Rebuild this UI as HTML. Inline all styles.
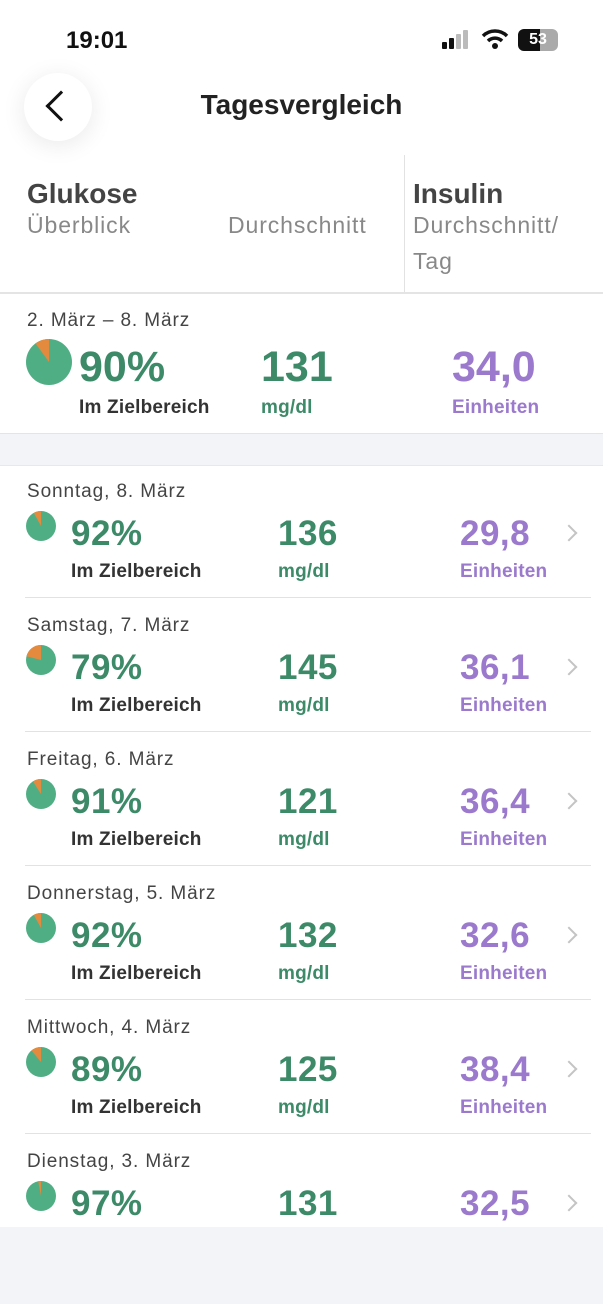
<!DOCTYPE html>
<html><head><meta charset="utf-8"><style>
*{margin:0;padding:0;box-sizing:border-box}
body{width:603px;height:1304px;background:#f3f4f7;font-family:"Liberation Sans",sans-serif;position:relative;overflow:hidden}
.a{position:absolute;white-space:nowrap}
.g{color:#3d8a68;font-weight:bold}
.p{color:#9b79cc;font-weight:bold}
.d{color:#444;font-size:19px;letter-spacing:0.9px}
.lab{font-size:19px;font-weight:bold;letter-spacing:0.2px}
.v{font-size:35px;line-height:34px;letter-spacing:0.5px}
.chev{position:absolute;width:12px;height:12px;border-right:2px solid #c4c4c4;border-top:2px solid #c4c4c4;transform:rotate(45deg)}
.h{font-size:23px;color:#888;letter-spacing:0.9px}
</style></head><body>
<div class="a" style="left:0;top:0;width:603px;height:434px;background:#fff"></div>
<div class="a" style="left:0;top:465px;width:603px;height:762px;background:#fff"></div>
<div class="a" style="left:66px;top:27px;font-size:24px;font-weight:bold;color:#111">19:01</div>
<div class="a" style="left:442px;top:42px;width:5px;height:7px;background:#111;border-radius:1px"></div>
<div class="a" style="left:449px;top:38px;width:5px;height:11px;background:#111;border-radius:1px"></div>
<div class="a" style="left:456px;top:34px;width:5px;height:15px;background:#bbb;border-radius:1px"></div>
<div class="a" style="left:463px;top:30px;width:5px;height:19px;background:#bbb;border-radius:1px"></div>
<svg class="a" style="left:481px;top:28px" width="28" height="22" viewBox="0 0 28 22"><path d="M2 8 A17 17 0 0 1 26 8" stroke="#111" stroke-width="3.5" fill="none"/><path d="M7 13 A10 10 0 0 1 21 13" stroke="#111" stroke-width="3.5" fill="none"/><circle cx="14" cy="18" r="3" fill="#111"/></svg>
<div class="a" style="left:518px;top:29px;width:40px;height:22px;border-radius:6px;background:linear-gradient(90deg,#111 55%,#aaa 55%);color:#fff;font-size:16px;font-weight:bold;text-align:center;line-height:22px">53</div>
<div class="a" style="left:24px;top:73px;width:68px;height:68px;border-radius:50%;background:#fff;box-shadow:0 4px 24px rgba(0,0,0,0.09)"></div>
<div class="a" style="left:50px;top:95px;width:22px;height:22px;border-left:3px solid #111;border-bottom:3px solid #111;transform:rotate(45deg)"></div>
<div class="a" style="left:0;width:603px;top:89px;text-align:center;font-size:28px;font-weight:bold;color:#222;padding-left:0">Tagesvergleich</div>
<div class="a" style="left:27px;top:178px;font-size:28px;font-weight:bold;color:#444">Glukose</div>
<div class="a h" style="left:27px;top:212px">Überblick</div>
<div class="a h" style="left:228px;top:212px">Durchschnitt</div>
<div class="a" style="left:404px;top:155px;width:1px;height:138px;background:#e2e2e2"></div>
<div class="a" style="left:413px;top:178px;font-size:28px;font-weight:bold;color:#444">Insulin</div>
<div class="a h" style="left:413px;top:212px">Durchschnitt/</div>
<div class="a h" style="left:413px;top:248px">Tag</div>
<div class="a" style="left:0;top:292px;width:603px;height:2px;background:#e4e4e4"></div>
<div class="a d" style="left:27px;top:310px">2. März – 8. März</div>
<svg class="a" style="left:26px;top:339px" width="46" height="46" viewBox="-1 -1 2 2"><circle r="1" fill="#50ae84"/><path d="M0 0 L0 -1 A1 1 0 0 0 -0.588 -0.809 Z" fill="#e38a3f"/></svg>
<div class="a g" style="left:79px;top:345px;font-size:43px;line-height:44px">90%</div>
<div class="a lab" style="left:79px;top:397px;color:#333">Im Zielbereich</div>
<div class="a g" style="left:261px;top:345px;font-size:43px;line-height:44px">131</div>
<div class="a g lab" style="left:261px;top:397px">mg/dl</div>
<div class="a p" style="left:452px;top:345px;font-size:43px;line-height:44px">34,0</div>
<div class="a p lab" style="left:452px;top:397px">Einheiten</div>
<div class="a" style="left:0;top:433px;width:603px;height:1px;background:#e4e4e4"></div>
<div class="a" style="left:0;top:465px;width:603px;height:1px;background:#e8e8e8"></div>

<div class="a" style="left:0;top:465px;width:603px;height:134px">
<div class="a d" style="left:27px;top:16px">Sonntag, 8. März</div>
<svg class="a" style="left:26px;top:45px" width="30" height="32" viewBox="-1 -1 2 2"><circle r="1" fill="#50ae84"/><path d="M0 0 L0 -1 A1 1 0 0 0 -0.482 -0.876 Z" fill="#e38a3f"/></svg>
<div class="a g v" style="left:71px;top:52px">92%</div><div class="a lab" style="left:71px;top:96px;color:#333">Im Zielbereich</div>
<div class="a g v" style="left:278px;top:52px">136</div><div class="a g lab" style="left:278px;top:96px">mg/dl</div>
<div class="a p v" style="left:460px;top:52px">29,8</div><div class="a p lab" style="left:460px;top:96px">Einheiten</div>
<div class="chev" style="left:563px;top:62px"></div>
<div class="a" style="left:25px;top:132px;width:566px;height:1px;background:#e2e2e2"></div></div>

<div class="a" style="left:0;top:599px;width:603px;height:134px">
<div class="a d" style="left:27px;top:16px">Samstag, 7. März</div>
<svg class="a" style="left:26px;top:45px" width="30" height="32" viewBox="-1 -1 2 2"><circle r="1" fill="#50ae84"/><path d="M0 0 L0 -1 A1 1 0 0 0 -0.969 -0.249 Z" fill="#e38a3f"/></svg>
<div class="a g v" style="left:71px;top:52px">79%</div><div class="a lab" style="left:71px;top:96px;color:#333">Im Zielbereich</div>
<div class="a g v" style="left:278px;top:52px">145</div><div class="a g lab" style="left:278px;top:96px">mg/dl</div>
<div class="a p v" style="left:460px;top:52px">36,1</div><div class="a p lab" style="left:460px;top:96px">Einheiten</div>
<div class="chev" style="left:563px;top:62px"></div>
<div class="a" style="left:25px;top:132px;width:566px;height:1px;background:#e2e2e2"></div></div>

<div class="a" style="left:0;top:733px;width:603px;height:134px">
<div class="a d" style="left:27px;top:16px">Freitag, 6. März</div>
<svg class="a" style="left:26px;top:45px" width="30" height="32" viewBox="-1 -1 2 2"><circle r="1" fill="#50ae84"/><path d="M0 0 L0 -1 A1 1 0 0 0 -0.536 -0.844 Z" fill="#e38a3f"/></svg>
<div class="a g v" style="left:71px;top:52px">91%</div><div class="a lab" style="left:71px;top:96px;color:#333">Im Zielbereich</div>
<div class="a g v" style="left:278px;top:52px">121</div><div class="a g lab" style="left:278px;top:96px">mg/dl</div>
<div class="a p v" style="left:460px;top:52px">36,4</div><div class="a p lab" style="left:460px;top:96px">Einheiten</div>
<div class="chev" style="left:563px;top:62px"></div>
<div class="a" style="left:25px;top:132px;width:566px;height:1px;background:#e2e2e2"></div></div>

<div class="a" style="left:0;top:867px;width:603px;height:134px">
<div class="a d" style="left:27px;top:16px">Donnerstag, 5. März</div>
<svg class="a" style="left:26px;top:45px" width="30" height="32" viewBox="-1 -1 2 2"><circle r="1" fill="#50ae84"/><path d="M0 0 L0 -1 A1 1 0 0 0 -0.482 -0.876 Z" fill="#e38a3f"/></svg>
<div class="a g v" style="left:71px;top:52px">92%</div><div class="a lab" style="left:71px;top:96px;color:#333">Im Zielbereich</div>
<div class="a g v" style="left:278px;top:52px">132</div><div class="a g lab" style="left:278px;top:96px">mg/dl</div>
<div class="a p v" style="left:460px;top:52px">32,6</div><div class="a p lab" style="left:460px;top:96px">Einheiten</div>
<div class="chev" style="left:563px;top:62px"></div>
<div class="a" style="left:25px;top:132px;width:566px;height:1px;background:#e2e2e2"></div></div>

<div class="a" style="left:0;top:1001px;width:603px;height:134px">
<div class="a d" style="left:27px;top:16px">Mittwoch, 4. März</div>
<svg class="a" style="left:26px;top:45px" width="30" height="32" viewBox="-1 -1 2 2"><circle r="1" fill="#50ae84"/><path d="M0 0 L0 -1 A1 1 0 0 0 -0.637 -0.770 Z" fill="#e38a3f"/></svg>
<div class="a g v" style="left:71px;top:52px">89%</div><div class="a lab" style="left:71px;top:96px;color:#333">Im Zielbereich</div>
<div class="a g v" style="left:278px;top:52px">125</div><div class="a g lab" style="left:278px;top:96px">mg/dl</div>
<div class="a p v" style="left:460px;top:52px">38,4</div><div class="a p lab" style="left:460px;top:96px">Einheiten</div>
<div class="chev" style="left:563px;top:62px"></div>
<div class="a" style="left:25px;top:132px;width:566px;height:1px;background:#e2e2e2"></div></div>

<div class="a" style="left:0;top:1135px;width:603px;height:92px;overflow:hidden">
<div class="a d" style="left:27px;top:16px">Dienstag, 3. März</div>
<svg class="a" style="left:26px;top:45px" width="30" height="32" viewBox="-1 -1 2 2"><circle r="1" fill="#50ae84"/><path d="M0 0 L0 -1 A1 1 0 0 0 -0.187 -0.982 Z" fill="#e38a3f"/></svg>
<div class="a g v" style="left:71px;top:52px">97%</div>
<div class="a g v" style="left:278px;top:52px">131</div>
<div class="a p v" style="left:460px;top:52px">32,5</div>
<div class="chev" style="left:563px;top:62px"></div></div>
</body></html>
